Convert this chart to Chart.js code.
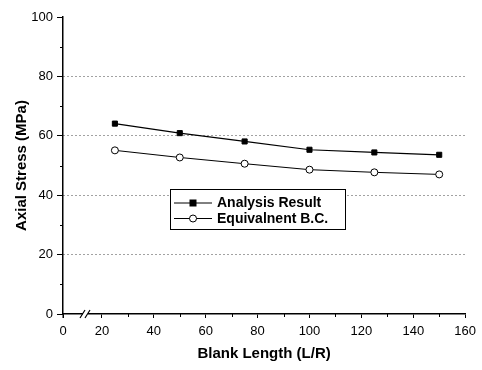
<!DOCTYPE html>
<html><head><meta charset="utf-8">
<script src="https://cdn.jsdelivr.net/npm/chart.js@4/dist/chart.umd.min.js"></script>
<style>html,body{margin:0;padding:0;background:#fff}#wrap{width:482px;height:370px}</style>
</head><body><div id="wrap"><canvas id="c" width="482" height="370"></canvas></div>
<script>
// ---- data ----
const blankLength = [25, 50, 75, 100, 125, 150];
const analysisResult = [64.1, 60.9, 58.1, 55.3, 54.4, 53.6];
const equivalentBC = [55.1, 52.7, 50.6, 48.6, 47.7, 47.0];
const seriesLabels = ['Analysis Result', 'Equivalnent B.C.'];
const xTickValues = [20, 40, 60, 80, 100, 120, 140, 160];
const xMinorTicks = [30, 50, 70, 90, 110, 130, 150];
const yTickValues = [0, 20, 40, 60, 80, 100];
const yMinorTicks = [10, 30, 50, 70, 90];
const X_AXIS_START = 5; // broken axis: the start is labelled "0"

const FONT = 'Arial, "Liberation Sans", Helvetica, sans-serif';

const toPts = (xs, ys) => xs.map((x, i) => ({x: x, y: ys[i]}));

const extras = {
  id: 'extras',
  afterDraw(chart) {
    const ctx = chart.ctx;
    const xs = chart.scales.x, ys = chart.scales.y;
    const ca = chart.chartArea;
    ctx.save();
    ctx.setLineDash([]);
    ctx.strokeStyle = '#000';
    ctx.lineWidth = 1;
    // axis line continues slightly below the origin
    ctx.beginPath(); ctx.moveTo(ca.left, ca.bottom); ctx.lineTo(ca.left, ca.bottom + 4); ctx.stroke();
    // minor ticks
    yMinorTicks.forEach(v => {
      const py = Math.round(ys.getPixelForValue(v)) + 0.5;
      ctx.beginPath(); ctx.moveTo(ca.left - 3, py); ctx.lineTo(ca.left, py); ctx.stroke();
    });
    xMinorTicks.forEach(v => {
      const px = Math.round(xs.getPixelForValue(v)) + 0.5;
      ctx.beginPath(); ctx.moveTo(px, ca.bottom); ctx.lineTo(px, ca.bottom + 3); ctx.stroke();
    });
    // axis break marks
    const by = ca.bottom;
    const bx = ca.left + 17;
    ctx.fillStyle = '#fff';
    ctx.fillRect(bx + 3, by - 2, 5, 4);
    ctx.lineWidth = 1.2;
    ctx.beginPath();
    ctx.moveTo(bx, by + 4); ctx.lineTo(bx + 5, by - 4);
    ctx.moveTo(bx + 5, by + 4); ctx.lineTo(bx + 10, by - 4);
    ctx.stroke();
    // legend
    const lx = 170, ly = 189.5, lw = 175, lh = 40;
    ctx.fillStyle = '#fff';
    ctx.fillRect(lx, ly, lw, lh);
    ctx.lineWidth = 1;
    ctx.strokeRect(lx + 0.5, ly, lw, lh);
    chart.data.datasets.forEach((ds, i) => {
      const cy = 203 + i * 15.5;
      ctx.strokeStyle = '#000';
      ctx.lineWidth = 1;
      ctx.beginPath(); ctx.moveTo(174, cy); ctx.lineTo(212, cy); ctx.stroke();
      const mx = 193, r = 3.5;
      if (ds.pointStyle === 'rect') {
        ctx.fillStyle = '#000';
        ctx.fillRect(mx - r, cy - r, 2 * r, 2 * r);
      } else {
        ctx.fillStyle = '#fff';
        ctx.beginPath(); ctx.arc(mx, cy, r, 0, Math.PI * 2); ctx.fill(); ctx.stroke();
      }
      ctx.fillStyle = '#000';
      ctx.font = 'bold 14px ' + FONT;
      ctx.textBaseline = 'middle';
      ctx.textAlign = 'left';
      ctx.fillText(ds.label, 217, cy + 0.5);
    });
    ctx.restore();
  }
};

new Chart(document.getElementById('c'), {
  type: 'line',
  data: {
    datasets: [
      {
        label: seriesLabels[0],
        data: toPts(blankLength, analysisResult),
        borderColor: '#000', borderWidth: 1.2,
        pointStyle: 'rect', pointRadius: 3.6,
        pointBackgroundColor: '#000', pointBorderColor: '#000', pointBorderWidth: 1
      },
      {
        label: seriesLabels[1],
        data: toPts(blankLength, equivalentBC),
        borderColor: '#000', borderWidth: 1,
        pointStyle: 'circle', pointRadius: 3.5,
        pointBackgroundColor: '#fff', pointBorderColor: '#000', pointBorderWidth: 1
      }
    ]
  },
  options: {
    responsive: false,
    animation: false,
    devicePixelRatio: 1,
    layout: {padding: {top: 17, right: 13, left: 0, bottom: 0}},
    plugins: {legend: {display: false}, tooltip: {enabled: false}},
    scales: {
      x: {
        type: 'linear',
        min: X_AXIS_START, max: 160,
        afterBuildTicks: s => { s.ticks = [X_AXIS_START].concat(xTickValues).map(v => ({value: v})); },
        afterFit: s => { s.height = 56; },
        ticks: {
          autoSkip: false, maxRotation: 0, color: '#000', padding: 6,
          font: {family: FONT, size: 13},
          callback: v => (v === X_AXIS_START ? '0' : String(v))
        },
        grid: {drawOnChartArea: false, drawTicks: true, tickLength: 4, color: '#000', tickColor: '#000'},
        border: {display: true, color: '#000', width: 1.5},
        title: {
          display: true, text: 'Blank Length (L/R)', color: '#000',
          font: {family: FONT, size: 15, weight: 'bold'}, padding: {top: 0, bottom: 7}
        }
      },
      y: {
        min: 0, max: 100,
        afterBuildTicks: s => { s.ticks = yTickValues.map(v => ({value: v})); },
        afterFit: s => { s.width = 63; },
        ticks: {color: '#000', padding: 4, font: {family: FONT, size: 13}},
        grid: {
          drawOnChartArea: true, drawTicks: true, tickLength: 6,
          color: c => (c.tick && (c.tick.value === 0 || c.tick.value === 100)) ? 'rgba(0,0,0,0)' : '#444',
          tickBorderDash: [1, 0], tickColor: '#000', tickWidth: 1
        },
        border: {display: true, color: '#000', width: 1.5, dash: [1, 3]},
        title: {
          display: true, text: 'Axial Stress (MPa)', color: '#000',
          font: {family: FONT, size: 15, weight: 'bold'}, padding: {top: 13, bottom: 0}
        }
      }
    }
  },
  plugins: [extras]
});
</script>
</body></html>
